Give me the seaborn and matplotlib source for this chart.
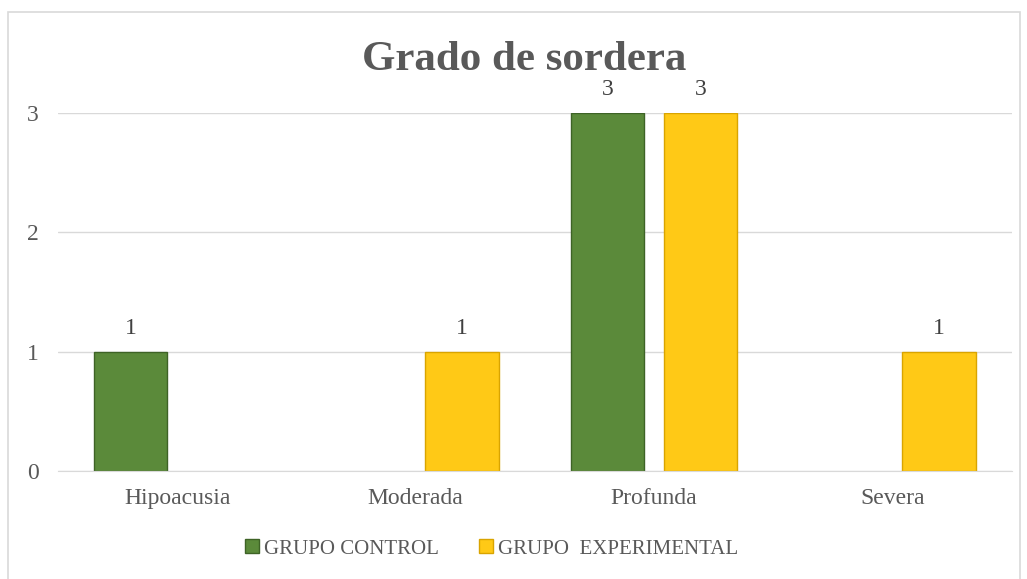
import matplotlib
matplotlib.use("Agg")
import matplotlib.pyplot as plt
import seaborn as sns
import pandas as pd
from matplotlib.patches import Rectangle
from matplotlib.lines import Line2D

categorias = ["Hipoacusia", "Moderada", "Profunda", "Severa"]
grupo_control = [1, 0, 3, 0]
grupo_experimental = [0, 1, 3, 1]
series = ["GRUPO CONTROL", "GRUPO  EXPERIMENTAL"]
colores = ["#5B8A3A", "#FFC916"]
bordes = ["#3E6326", "#D9A400"]

df = pd.DataFrame({
    "categoria": categorias * 2,
    "grupo": [series[0]] * 4 + [series[1]] * 4,
    "valor": grupo_control + grupo_experimental,
})

sns.set_style("white")
plt.rcParams["font.family"] = ["Liberation Serif", "DejaVu Serif"]

fig = plt.figure(figsize=(10.27, 5.79), dpi=100)
ax = fig.add_axes([0.0565, 0.1865, 0.9285, 0.6185])

sns.barplot(data=df, x="categoria", y="valor", hue="grupo", palette=colores,
            width=0.78, gap=0.21, ax=ax, legend=False, saturation=1)

for i, cont in enumerate(ax.containers):
    for bar, v in zip(cont, cont.datavalues):
        bar.set_edgecolor(bordes[i])
        bar.set_linewidth(1.0 if v > 0 else 0)
    etiquetas = [f"{int(v)}" if v > 0 else "" for v in cont.datavalues]
    ax.bar_label(cont, labels=etiquetas, padding=9, fontsize=17, color="#404040")

ax.set_ylim(0, 3)
ax.set_yticks([0, 1, 2, 3])
ax.yaxis.grid(True, color="#D9D9D9", linewidth=1)
ax.set_axisbelow(True)
for s in ["top", "right", "left"]:
    ax.spines[s].set_visible(False)
ax.spines["bottom"].set_color("#D9D9D9")
ax.tick_params(axis="both", length=0, labelsize=17, colors="#595959")
ax.tick_params(axis="x", pad=12)
ax.tick_params(axis="y", pad=14)
ax.set_xlabel("")
ax.set_ylabel("")

fig.text(0.51, 0.897, "Grado de sordera", ha="center", va="center",
         fontsize=31, fontweight="bold", color="#595959")

handles = [Line2D([0], [0], marker="s", linestyle="", markersize=10,
                  markerfacecolor=colores[i], markeredgecolor=bordes[i])
           for i in range(2)]
fig.legend(handles, series, loc="center", bbox_to_anchor=(0.477, 0.052), ncol=2,
           frameon=False, fontsize=15, labelcolor="#595959", handletextpad=0.05,
           columnspacing=1.8, handlelength=1.0)

fig.add_artist(Rectangle((0.008, -0.01), 0.985, 0.99, transform=fig.transFigure,
                         fill=False, edgecolor="#D9D9D9", linewidth=1.2))

fig.savefig("out.png", dpi=100)
